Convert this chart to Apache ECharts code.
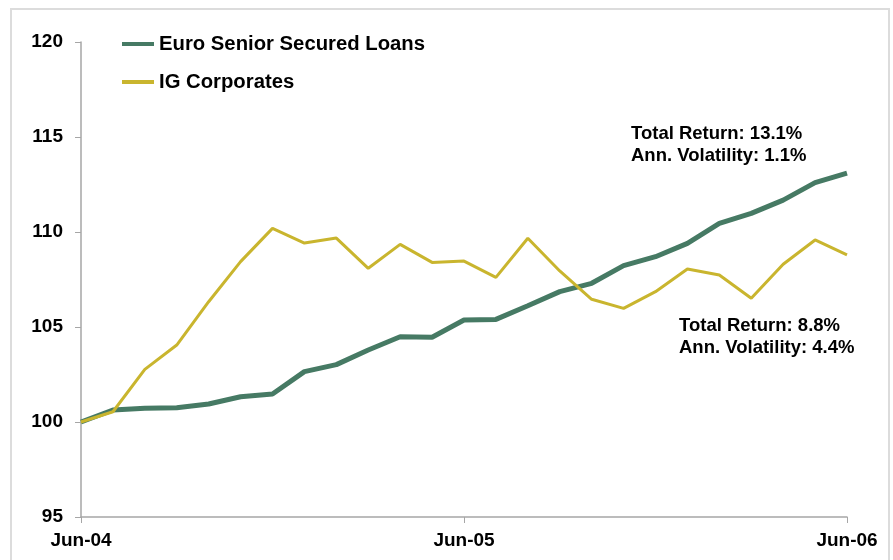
<!DOCTYPE html>
<html>
<head>
<meta charset="utf-8">
<script src="https://cdn.jsdelivr.net/npm/echarts@6/dist/echarts.min.js"></script>
<style>
  html, body { margin: 0; padding: 0; background: #fff; }
  #chart { width: 893px; height: 560px; }
</style>
</head>
<body>
<div id="chart"></div>
<script>
// Monthly index levels, rebased to 100 at Jun-04
const months = [
  'Jun-04', 'Jul-04', 'Aug-04', 'Sep-04', 'Oct-04', 'Nov-04', 'Dec-04',
  'Jan-05', 'Feb-05', 'Mar-05', 'Apr-05', 'May-05', 'Jun-05',
  'Jul-05', 'Aug-05', 'Sep-05', 'Oct-05', 'Nov-05', 'Dec-05',
  'Jan-06', 'Feb-06', 'Mar-06', 'Apr-06', 'May-06', 'Jun-06'
];
const seriesNames = ['Euro Senior Secured Loans', 'IG Corporates'];
const loans = [
  100, 100.63, 100.72, 100.75, 100.95, 101.33, 101.47,
  102.65, 103.02, 103.79, 104.49, 104.46, 105.37,
  105.40, 106.12, 106.86, 107.30, 108.23, 108.70,
  109.40, 110.45, 110.98, 111.68, 112.60, 113.1
];
const corporates = [
  100, 100.54, 102.77, 104.05, 106.33, 108.44, 110.19,
  109.42, 109.68, 108.09, 109.35, 108.40, 108.47,
  107.61, 109.67, 107.95, 106.46, 105.98, 106.86,
  108.05, 107.74, 106.51, 108.30, 109.58, 108.8
];
const annVolatility = [1.1, 4.4];
const yTicks = { min: 95, max: 120, interval: 5 };

const FONT = "'Liberation Sans', Arial, Helvetica, sans-serif";
const GREEN = '#467a64';
const YELLOW = '#c9b52e';

function totalReturn(arr) {
  return ((arr[arr.length - 1] / arr[0] - 1) * 100).toFixed(1);
}

const chart = echarts.init(document.getElementById('chart'), null, { renderer: 'canvas' });

chart.setOption({
  animation: false,
  backgroundColor: '#fff',
  grid: { left: 81, right: 46, top: 42, bottom: 43, containLabel: false },
  legend: {
    orient: 'vertical',
    left: 122,
    top: 34,
    padding: 0,
    itemGap: 18,
    itemWidth: 32,
    itemHeight: 4,
    icon: 'rect',
    selectedMode: false,
    textStyle: { fontFamily: FONT, fontWeight: 'bold', fontSize: 20.3, color: '#000', lineHeight: 20 },
    data: [
      { name: seriesNames[0], itemStyle: { color: GREEN } },
      { name: seriesNames[1], itemStyle: { color: YELLOW } }
    ]
  },
  xAxis: {
    type: 'category',
    data: months,
    boundaryGap: false,
    axisLine: { lineStyle: { color: '#a6a6a6', width: 1.5 } },
    axisTick: { show: true, interval: 11, length: 6, lineStyle: { color: '#a6a6a6' } },
    axisLabel: {
      interval: 11,
      margin: 14,
      fontFamily: FONT, fontWeight: 'bold', fontSize: 19, color: '#000'
    },
    splitLine: { show: false }
  },
  yAxis: {
    type: 'value',
    min: yTicks.min,
    max: yTicks.max,
    interval: yTicks.interval,
    axisLine: { show: true, lineStyle: { color: '#a6a6a6', width: 1.5 } },
    axisTick: { show: true, length: 6, lineStyle: { color: '#a6a6a6' } },
    axisLabel: {
      margin: 18,
      fontFamily: FONT, fontWeight: 'bold', fontSize: 19, color: '#000'
    },
    splitLine: { show: false }
  },
  series: [
    {
      name: seriesNames[0],
      type: 'line',
      data: loans,
      showSymbol: false,
      symbol: 'none',
      lineStyle: { color: GREEN, width: 5 },
      itemStyle: { color: GREEN },
      z: 2
    },
    {
      name: seriesNames[1],
      type: 'line',
      data: corporates,
      showSymbol: false,
      symbol: 'none',
      lineStyle: { color: YELLOW, width: 3 },
      itemStyle: { color: YELLOW },
      z: 3
    }
  ],
  graphic: [
    {
      type: 'rect',
      silent: true,
      shape: { x: 11, y: 9, width: 878, height: 600 },
      style: { fill: 'none', stroke: '#dcdcdc', lineWidth: 2 }
    },
    {
      type: 'text',
      left: 631,
      top: 123,
      style: {
        text: 'Total Return: ' + totalReturn(loans) + '%\nAnn. Volatility: ' + annVolatility[0].toFixed(1) + '%',
        font: 'bold 18.5px ' + FONT,
        fill: '#000',
        lineHeight: 22
      }
    },
    {
      type: 'text',
      left: 679,
      top: 315,
      style: {
        text: 'Total Return: ' + totalReturn(corporates) + '%\nAnn. Volatility: ' + annVolatility[1].toFixed(1) + '%',
        font: 'bold 18.5px ' + FONT,
        fill: '#000',
        lineHeight: 22
      }
    }
  ]
});
</script>
</body>
</html>
